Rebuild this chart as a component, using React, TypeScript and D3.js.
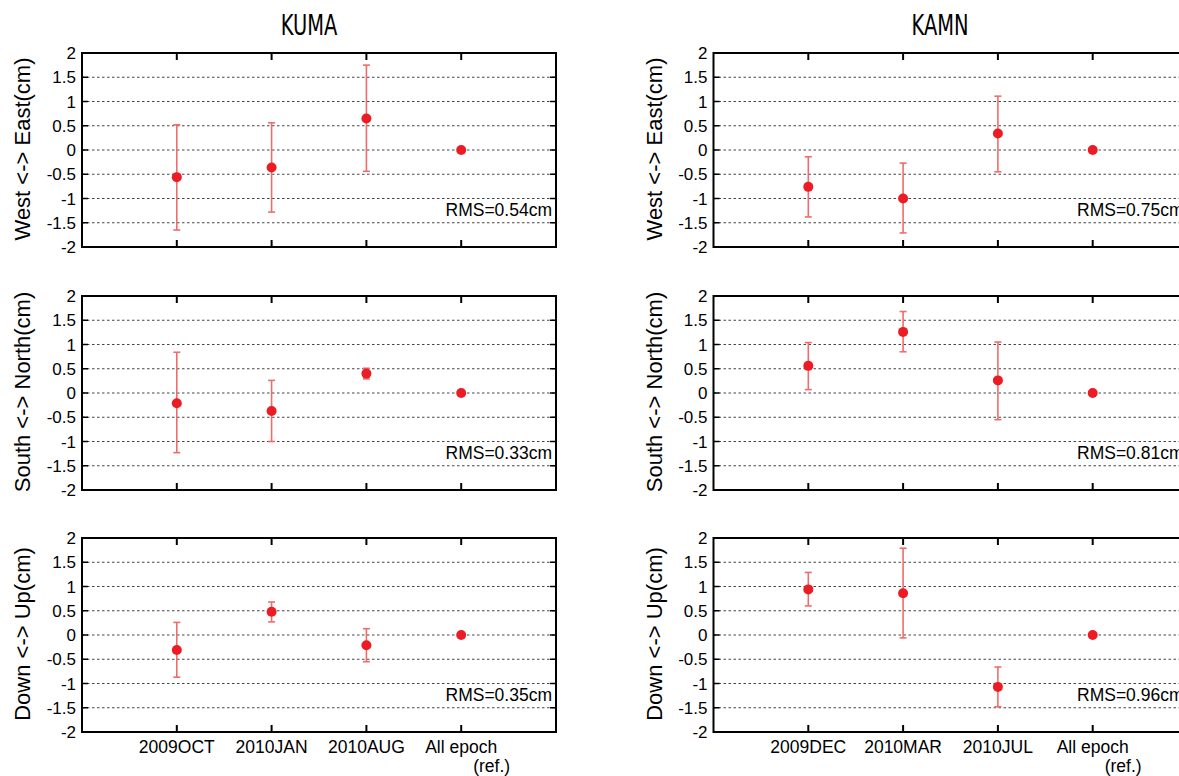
import * as d3 from "d3"

// epochs / x categories
const kumaEpochs = ["2009OCT", "2010JAN", "2010AUG", "All epoch"]
const kamnEpochs = ["2009DEC", "2010MAR", "2010JUL", "All epoch"]
const compLabels = ["West <-> East(cm)", "South <-> North(cm)", "Down <-> Up(cm)"]
const yTickValues = [-2, -1.5, -1, -0.5, 0, 0.5, 1, 1.5, 2]
const gridValues = [-1.5, -1, -0.5, 0, 0.5, 1, 1.5]

// KUMA displacement (cm) with error bar bounds; last = reference (no bar)
const kumaEW = [-0.56, -0.36, 0.65, 0]
const kumaEWLo = [-1.65, -1.28, -0.44, null]
const kumaEWHi = [0.52, 0.56, 1.75, null]
const kumaNS = [-0.21, -0.37, 0.4, 0]
const kumaNSLo = [-1.23, -1.0, 0.29, null]
const kumaNSHi = [0.84, 0.26, 0.51, null]
const kumaUD = [-0.31, 0.48, -0.21, 0]
const kumaUDLo = [-0.87, 0.27, -0.55, null]
const kumaUDHi = [0.26, 0.68, 0.13, null]
const kumaRms = [0.54, 0.33, 0.35]

// KAMN
const kamnEW = [-0.76, -1.0, 0.34, 0]
const kamnEWLo = [-1.38, -1.71, -0.45, null]
const kamnEWHi = [-0.14, -0.27, 1.11, null]
const kamnNS = [0.56, 1.26, 0.26, 0]
const kamnNSLo = [0.07, 0.85, -0.55, null]
const kamnNSHi = [1.04, 1.68, 1.05, null]
const kamnUD = [0.94, 0.86, -1.07, 0]
const kamnUDLo = [0.6, -0.06, -1.48, null]
const kamnUDHi = [1.29, 1.79, -0.66, null]
const kamnRms = [0.75, 0.81, 0.96]

const W = 1179
const H = 776
const panelW = 474
const panelH = 194
const panelTops = [53, 296, 538]
const sansFont = "'Liberation Sans', Arial, sans-serif"

type PanelProps = {
  left: number
  top: number
  values: number[]
  lo: (number | null)[]
  hi: (number | null)[]
  rms: number
  yLabel: string
  epochs: string[]
  showX: boolean
}

function Panel({ left, top, values, lo, hi, rms, yLabel, epochs, showX }: PanelProps) {
  const x = d3.scaleLinear().domain([0, 5]).range([left, left + panelW])
  const y = d3.scaleLinear().domain([-2, 2]).range([top + panelH, top])
  const right = left + panelW
  const bottom = top + panelH
  return (
    <g>
      {gridValues.map((v) => (
        <line key={"g" + v} x1={left} x2={right} y1={y(v)} y2={y(v)} stroke="#444" strokeWidth={1} strokeDasharray="2.5,2.5" />
      ))}
      {gridValues.map((v) => (
        <g key={"yt" + v}>
          <line x1={left} x2={left + 6} y1={y(v)} y2={y(v)} stroke="#000" strokeWidth={1.5} />
          <line x1={right - 6} x2={right} y1={y(v)} y2={y(v)} stroke="#000" strokeWidth={1.5} />
        </g>
      ))}
      {yTickValues.map((v) => (
        <text key={"yl" + v} x={left - 6} y={y(v) + 6} textAnchor="end" fontFamily={sansFont} fontSize={17} fill="#000">
          {v}
        </text>
      ))}
      {epochs.map((_, i) => (
        <g key={"xt" + i}>
          <line x1={x(i + 1)} x2={x(i + 1)} y1={top} y2={top + 7} stroke="#000" strokeWidth={2} />
          <line x1={x(i + 1)} x2={x(i + 1)} y1={bottom - 7} y2={bottom} stroke="#000" strokeWidth={2} />
        </g>
      ))}
      <rect x={left} y={top} width={panelW} height={panelH} fill="none" stroke="#000" strokeWidth={2} />
      {values.map((v, i) => {
        const l = lo[i]
        const h = hi[i]
        const cx = x(i + 1)
        return (
          <g key={"p" + i}>
            {l !== null && h !== null && (
              <g stroke="#f06c6c" strokeWidth={1.6}>
                <line x1={cx} x2={cx} y1={y(l)} y2={y(h)} />
                <line x1={cx - 3.5} x2={cx + 3.5} y1={y(l)} y2={y(l)} />
                <line x1={cx - 3.5} x2={cx + 3.5} y1={y(h)} y2={y(h)} />
              </g>
            )}
            <circle cx={cx} cy={y(v)} r={5} fill="#ec1c24" />
          </g>
        )
      })}
      <text x={right - 4} y={y(-1.37)} textAnchor="end" fontFamily={sansFont} fontSize={17.5} fill="#000">
        {"RMS=" + rms.toFixed(2) + "cm"}
      </text>
      <text
        transform={`translate(${left - 52},${top + panelH / 2 - 1}) rotate(-90)`}
        textAnchor="middle"
        fontFamily={sansFont}
        fontSize={22}
        fill="#000"
      >
        {yLabel}
      </text>
      {showX &&
        epochs.map((e, i) => (
          <g key={"xl" + i}>
            <text x={x(i + 1)} y={bottom + 21} textAnchor="middle" fontFamily={sansFont} fontSize={17.5} fill="#000">
              {e}
            </text>
            {i === epochs.length - 1 && (
              <text x={x(i + 1) + 12} y={bottom + 40} textAnchor="start" fontFamily={sansFont} fontSize={17.5} fill="#000">
                (ref.)
              </text>
            )}
          </g>
        ))}
    </g>
  )
}

export default function App() {
  const kuma = [
    { v: kumaEW, lo: kumaEWLo, hi: kumaEWHi },
    { v: kumaNS, lo: kumaNSLo, hi: kumaNSHi },
    { v: kumaUD, lo: kumaUDLo, hi: kumaUDHi },
  ]
  const kamn = [
    { v: kamnEW, lo: kamnEWLo, hi: kamnEWHi },
    { v: kamnNS, lo: kamnNSLo, hi: kamnNSHi },
    { v: kamnUD, lo: kamnUDLo, hi: kamnUDHi },
  ]
  const stations = [
    { name: "KUMA", left: 82, titleX: 309, data: kuma, rms: kumaRms, epochs: kumaEpochs },
    { name: "KAMN", left: 713.5, titleX: 940, data: kamn, rms: kamnRms, epochs: kamnEpochs },
  ]
  return (
    <div style={{ position: "fixed", left: 0, top: 0, width: W, height: H, background: "#fff" }}>
      <svg width={W} height={H} style={{ display: "block" }}>
        <rect width={W} height={H} fill="#fff" />
        {stations.map((s) => (
          <g key={s.name}>
            <text
              transform={`translate(${s.titleX},35) scale(0.9,1.15)`}
              textAnchor="middle"
              fontFamily="'Liberation Sans Narrow', 'DejaVu Sans Condensed', sans-serif"
              fontSize={24}
              fill="#000"
            >
              {s.name}
            </text>
            {s.data.map((d, k) => (
              <Panel
                key={k}
                left={s.left}
                top={panelTops[k]}
                values={d.v}
                lo={d.lo}
                hi={d.hi}
                rms={s.rms[k]}
                yLabel={compLabels[k]}
                epochs={s.epochs}
                showX={k === 2}
              />
            ))}
          </g>
        ))}
      </svg>
    </div>
  )
}
